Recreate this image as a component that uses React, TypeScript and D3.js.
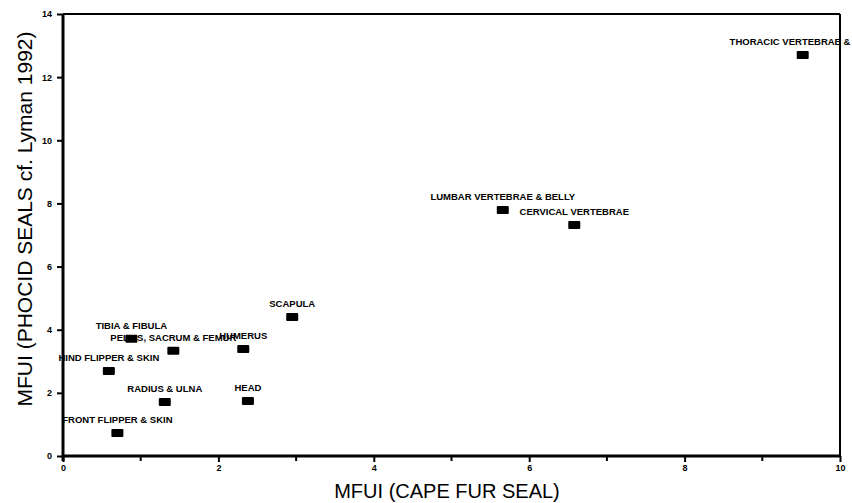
import { useEffect, useRef } from 'react';
import * as d3 from 'd3';

const labels = [
  'THORACIC VERTEBRAE & RIBS',
  'LUMBAR VERTEBRAE & BELLY',
  'CERVICAL VERTEBRAE',
  'SCAPULA',
  'HUMERUS',
  'PELVIS, SACRUM & FEMUR',
  'TIBIA & FIBULA',
  'HIND FLIPPER & SKIN',
  'RADIUS & ULNA',
  'HEAD',
  'FRONT FLIPPER & SKIN',
];
const capeFurSeal = [9.52, 5.66, 6.58, 2.95, 2.32, 1.42, 0.88, 0.59, 1.31, 2.38, 0.7];
const phocidSeals = [12.7, 7.79, 7.32, 4.4, 3.39, 3.33, 3.71, 2.69, 1.71, 1.74, 0.73];
const xTicks = [0, 2, 4, 6, 8, 10];
const xMinor = [1, 3, 5, 7, 9];
const yTicks = [0, 2, 4, 6, 8, 10, 12, 14];

const App = () => {
  const svgRef = useRef<SVGSVGElement>(null);

  useEffect(() => {
    const W = 852;
    const H = 503;
    const margin = { top: 14, right: 12, bottom: 47, left: 63 };
    const width = W - margin.left - margin.right;
    const height = H - margin.top - margin.bottom;
    const font = 'Liberation Sans, Arial, sans-serif';

    d3.select(svgRef.current).selectAll('*').remove();

    const svg = d3.select(svgRef.current)
      .attr('width', W)
      .attr('height', H)
      .style('overflow', 'visible');

    const g = svg.append('g')
      .attr('transform', `translate(${margin.left},${margin.top})`);

    const x = d3.scaleLinear().domain([0, 10]).range([0, width]);
    const y = d3.scaleLinear().domain([0, 14]).range([height, 0]);

    // frame: top and right thinner
    g.append('line')
      .attr('x1', 0).attr('x2', width).attr('y1', 0).attr('y2', 0)
      .attr('stroke', '#000').attr('stroke-width', 2);
    g.append('line')
      .attr('x1', width).attr('x2', width).attr('y1', 0).attr('y2', height)
      .attr('stroke', '#000').attr('stroke-width', 2);

    // x axis
    const xAxis = g.append('g')
      .attr('transform', `translate(0,${height})`)
      .call(d3.axisBottom(x).tickValues(xTicks).tickSize(6).tickPadding(3).tickFormat(d3.format('d')));
    xAxis.append('g')
      .selectAll('line')
      .data(xMinor)
      .enter()
      .append('line')
      .attr('x1', d => x(d)).attr('x2', d => x(d))
      .attr('y1', 0).attr('y2', 5)
      .attr('stroke', '#000').attr('stroke-width', 2);

    // y axis
    const yAxis = g.append('g')
      .call(d3.axisLeft(y).tickValues(yTicks).tickSize(6).tickPadding(5).tickFormat(d3.format('d')));

    [xAxis, yAxis].forEach(ax => {
      ax.select('.domain').remove();
      ax.selectAll('.tick line').attr('stroke-width', 2);
      ax.selectAll('.tick text')
        .style('font-family', font)
        .style('font-size', '9px')
        .style('font-weight', 'bold');
    });

    g.append('line')
      .attr('x1', 0).attr('x2', width).attr('y1', height).attr('y2', height)
      .attr('stroke', '#000').attr('stroke-width', 3);
    g.append('line')
      .attr('x1', 0).attr('x2', 0).attr('y1', 0).attr('y2', height + 5)
      .attr('stroke', '#000').attr('stroke-width', 3);

    // points
    const data = labels.map((label, i) => ({ label, cx: capeFurSeal[i], cy: phocidSeals[i] }));

    g.selectAll('rect.pt')
      .data(data)
      .enter()
      .append('rect')
      .attr('class', 'pt')
      .attr('x', d => x(d.cx) - 6)
      .attr('y', d => y(d.cy) - 4)
      .attr('width', 12)
      .attr('height', 8)
      .attr('rx', 1)
      .attr('fill', '#000');

    g.selectAll('text.lbl')
      .data(data)
      .enter()
      .append('text')
      .attr('class', 'lbl')
      .attr('x', d => x(d.cx))
      .attr('y', d => y(d.cy) - 10)
      .attr('text-anchor', 'middle')
      .style('font-family', font)
      .style('font-size', '9.5px')
      .style('font-weight', 'bold')
      .text(d => d.label);

    // axis titles
    svg.append('text')
      .attr('x', 447)
      .attr('y', 498)
      .attr('text-anchor', 'middle')
      .style('font-family', font)
      .style('font-size', '20px')
      .text('MFUI (CAPE FUR SEAL)');

    svg.append('text')
      .attr('transform', `translate(32,219) rotate(-90)`)
      .attr('text-anchor', 'middle')
      .style('font-family', font)
      .style('font-size', '21px')
      .text('MFUI (PHOCID SEALS cf. Lyman 1992)');
  }, []);

  return (
    <div style={{ position: 'absolute', left: 0, top: 0, width: 852, height: 503, overflow: 'hidden', background: '#fff' }}>
      <svg ref={svgRef}></svg>
    </div>
  );
};

export default App;
